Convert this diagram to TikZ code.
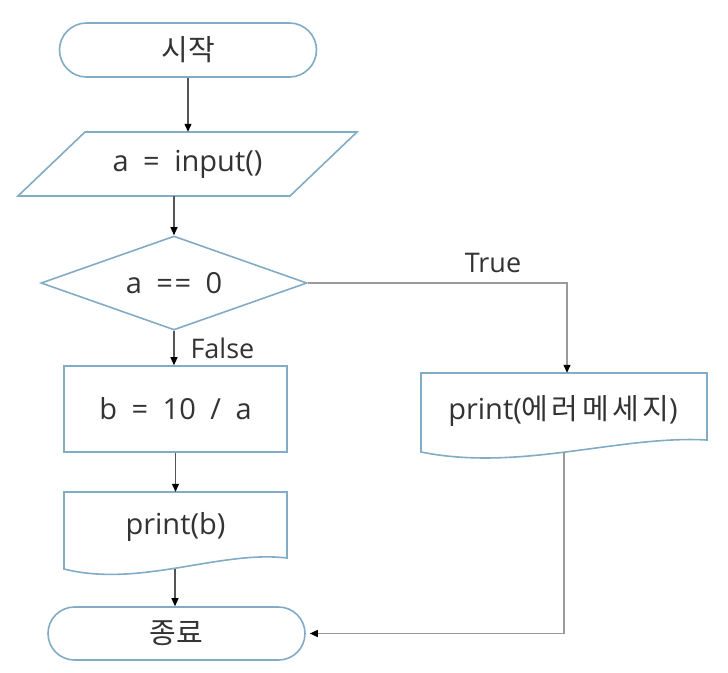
\documentclass[tikz,border=0pt]{standalone}
\usepackage{fontspec}
\setmainfont{Open Sans}
\newfontfamily\kr{Noto Sans CJK KR}
\usetikzlibrary{arrows.meta,shapes.geometric,calc}
\definecolor{shpc}{HTML}{82ABC5}
\definecolor{txt}{HTML}{333333}
\definecolor{lnd}{HTML}{555555}
\definecolor{lnl}{HTML}{9A9A9A}
\newcommand\wsp{\hspace{0.5em}}
\newcommand\ksp{\hspace{0.12em}}
\begin{document}
\begin{tikzpicture}[x=1pt,y=-1pt,
  every node/.style={font=\fontsize{29}{32}\selectfont, text=txt},
  shp/.style={draw=shpc, line width=1.6pt},
  tip/.style={-{Triangle[length=8pt,width=7pt,fill=black,color=black]}},
  conn/.style={draw=lnd, line width=1.1pt, tip},
  connl/.style={draw=lnl, line width=1.3pt, tip},
  lbl/.style={font=\fontsize{27}{30}\selectfont}]
\useasboundingbox[fill=white] (0,0) rectangle (728,672);
% nodes
\node[shp, rounded corners=27pt, minimum width=257pt, minimum height=54pt, inner sep=0] (start) at (188,50) {\kr 시작};
\node[minimum width=205pt, minimum height=64pt, inner sep=0] (input) at (187.5,164) {a\wsp=\wsp input()};
\draw[shp] (85,132) -- (357,132) -- (290,196) -- (18,196) -- cycle;
\node[shp, diamond, aspect=2.83, minimum width=266pt, minimum height=94pt, inner sep=0] (dec) at (174,283) {a\wsp=\hspace{0.05em}=\wsp0};
\node[shp, minimum width=223pt, minimum height=86pt, inner sep=0] (bnode) at (175.5,409) {b\wsp=\wsp10\wsp/\wsp a};
\node[minimum width=223pt, minimum height=70pt, inner sep=0] (pb) at (175.5,527) {print(b)};
\draw[shp] (64,492) -- (287,492) -- (287,558) .. controls (220,550) and (140,588) .. (64,569) -- cycle;
\coordinate (pbout) at (175,569);
\node[minimum width=286pt, minimum height=76pt, inner sep=0] (err) at (563,411) {print({\kr 에\ksp 러\ksp 메\ksp 세\ksp 지})};
\draw[shp] (421,373) -- (707,373) -- (707,440) .. controls (620,435) and (520,472) .. (421,452) -- cycle;
\coordinate (errout) at (564,452);
\node[shp, rounded corners=26.5pt, minimum width=257pt, minimum height=53pt, inner sep=0] (end) at (176.5,633.5) {\kr 종료};
% connectors
\draw[conn] (start.south) -- (start.south |- input.north);
\draw[conn] (dec.north |- input.south) -- (dec.north);
\draw[conn] (dec.south) -- (dec.south |- bnode.north);
\node[lbl, anchor=west] (flbl) at (187,348) {False};
\draw[conn] (bnode.south) -- (bnode.south |- pb.north);
\draw[conn] (pbout) -- (pbout |- end.north);
\draw[connl] (dec.east) -| ($(err.north)+(4,0)$);
\node[lbl] (tlbl) at (493,263) {True};
\draw[connl, shorten >=4pt] (errout) |- (end.east);
\end{tikzpicture}
\end{document}
